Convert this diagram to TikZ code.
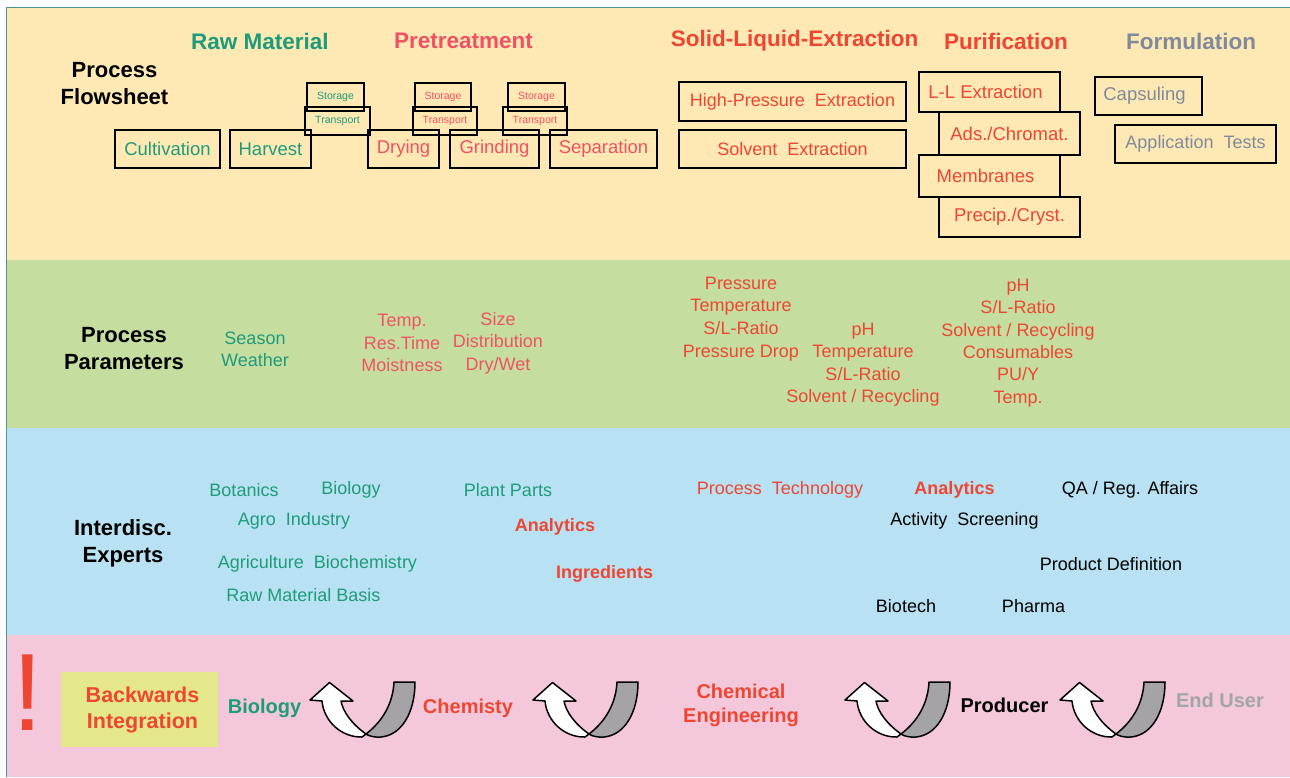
\documentclass[tikz,border=0pt]{standalone}
\usepackage{fontspec}
\setmainfont{Liberation Sans}
\definecolor{bgY}{RGB}{254,233,181}
\definecolor{bgG}{RGB}{197,222,160}
\definecolor{bgB}{RGB}{184,226,243}
\definecolor{bgP}{RGB}{244,200,218}
\definecolor{bord}{RGB}{74,150,150}
\definecolor{tgreen}{RGB}{30,155,122}
\definecolor{tpink}{RGB}{240,82,100}
\definecolor{tred}{RGB}{238,70,50}
\definecolor{tgray}{RGB}{128,138,155}
\definecolor{tlgray}{RGB}{162,164,172}
\definecolor{byel}{RGB}{228,232,138}
\definecolor{agray}{RGB}{165,163,168}
\tikzset{
  hdr/.style={font=\fontsize{22.5}{26}\selectfont\bfseries, inner sep=0},
  lbl/.style={font=\fontsize{22}{27}\selectfont\bfseries, align=center, inner sep=0, text=black},
  txt/.style={font=\fontsize{18}{22.4}\selectfont, align=center, inner sep=0},
  btxt/.style={font=\fontsize{18}{22}\selectfont\bfseries, align=center, inner sep=0, text=tred},
  box/.style={draw=black, line width=1.4pt, inner sep=0, font=\fontsize{18.5}{22}\selectfont},
  sbox/.style={draw=black, line width=1.2pt, inner sep=0, font=\fontsize{10.5}{12}\selectfont},
  bot/.style={font=\fontsize{20}{24}\selectfont\bfseries, align=center, inner sep=0},
  arr/.style={draw=black, line width=1.5pt, line join=round}
}
\begin{document}
\begin{tikzpicture}[x=1pt,y=-1pt]
\useasboundingbox (0,0) rectangle (1290,777);
\fill[white] (0,0) rectangle (1290,777);
% bands
\fill[bgY] (7,8) rectangle (1290,260);
\fill[bgG] (7,260) rectangle (1290,428);
\fill[bgB] (7,428) rectangle (1290,635);
\fill[bgP] (7,635) rectangle (1290,777);
\draw[bord, line width=1.3pt] (6.5,777) -- (6.5,7.5) -- (1290,7.5);

% headers
\node[hdr, text=tgreen] (hraw) at (260,41) {Raw Material};
\node[hdr, text=tpink] (hpre) at (463.5,41) {Pretreatment};
\node[hdr, text=tred] (hsle) at (794.5,41) {Solid-Liquid-Extraction};
\node[hdr, text=tred] (hpur) at (1006,41) {Purification};
\node[hdr, text=tgray] (hfor) at (1191,41) {Formulation};

% left labels
\node[lbl] (lflow) at (114.5,84) {Process\\Flowsheet};
\node[lbl] (lpar) at (124,348.5) {Process\\Parameters};
\node[lbl] (lexp) at (123,543.5) {Interdisc.\\Experts};

% flowsheet boxes
\node[box, text=tgreen, minimum width=105, minimum height=38] (cult) at (167.5,149) {Cultivation};
\node[box, text=tgreen, minimum width=81, minimum height=38] (harv) at (270.5,149) {Harvest};
\node[box, text=tpink, minimum width=71, minimum height=38] (dry) at (403.5,149) {Drying};
\node[box, text=tpink, minimum width=89, minimum height=38] (grind) at (494.5,149) {Grinding};
\node[box, text=tpink, minimum width=107, minimum height=38] (sep) at (603.5,149) {Separation};
\node[sbox, text=tgreen, minimum width=57, minimum height=28] (st1) at (335.5,97) {Storage};
\node[sbox, text=tgreen, minimum width=65, minimum height=28] (tr1) at (337.5,121) {Transport};
\node[sbox, text=tpink, minimum width=56, minimum height=28] (st2) at (443,97) {Storage};
\node[sbox, text=tpink, minimum width=64, minimum height=28] (tr2) at (445,121) {Transport};
\node[sbox, text=tpink, minimum width=57, minimum height=28] (st3) at (536.5,97) {Storage};
\node[sbox, text=tpink, minimum width=64, minimum height=28] (tr3) at (535,121) {Transport};

\node[box, text=tred, minimum width=227, minimum height=39, font=\fontsize{18}{22}\selectfont] (hpe) at (792.5,101.5) {High-Pressure\ \ Extraction};
\node[box, text=tred, minimum width=227, minimum height=38, font=\fontsize{18}{22}\selectfont] (se) at (792.5,149) {Solvent\ \ Extraction};
\node[box, text=tred, minimum width=141, minimum height=40] (ll) at (989.5,92) {L-L Extraction\hspace*{8pt}};
\node[box, text=tred, minimum width=141, minimum height=43] (ads) at (1009.5,133.5) {Ads./Chromat.};
\node[box, text=tred, minimum width=141, minimum height=42] (mem) at (989.5,176) {Membranes\hspace*{8pt}};
\node[box, text=tred, minimum width=141, minimum height=40] (prc) at (1009.5,217) {Precip./Cryst.};
\node[box, text=tgray, minimum width=107, minimum height=38] (cap) at (1148.5,96) {Capsuling\hspace*{8pt}};
\node[box, text=tgray, minimum width=161, minimum height=38, font=\fontsize{18}{22}\selectfont] (app) at (1195.5,144) {Application\ \ Tests};

% process parameters
\node[txt, text=tgreen] (p1) at (255,349) {Season\\Weather};
\node[txt, text=tpink] (p2) at (402,343) {Temp.\\Res.Time\\Moistness};
\node[txt, text=tpink] (p3) at (498,343) {Size\\Distribution\\Dry/Wet};
\node[txt, text=tred] (p4) at (741,305.5) {Pressure\\Temperature\\S/L-Ratio};
\node[txt, text=tred] (p5) at (741,353) {Pressure Drop};
\node[txt, text=tred] (p6) at (863,364.5) {pH\\Temperature\\S/L-Ratio\\Solvent / Recycling};
\node[txt, text=tred] (p7) at (1018,343) {pH\\S/L-Ratio\\Solvent / Recycling\\Consumables\\PU/Y\\Temp.};

% experts
\node[txt, text=tgreen] (e1) at (244,490) {Botanics};
\node[txt, text=tgreen] (e2) at (351,490) {Biology};
\node[txt, text=tgreen] (e3) at (508,490) {Plant Parts};
\node[txt, text=tgreen] (e4) at (294,521) {Agro\ \ Industry};
\node[btxt] (e5) at (555,527) {Analytics};
\node[txt, text=tgreen] (e6) at (317.5,564) {Agriculture\ \ Biochemistry};
\node[btxt] (e7) at (604.5,574) {Ingredients};
\node[txt, text=tgreen] (e8) at (303.5,595) {Raw Material Basis};
\node[txt, text=tred] (e9) at (780,490) {Process\ \ Technology};
\node[btxt] (e10) at (954.5,490) {Analytics};
\node[txt, text=black] (e11) at (1130,490) {QA / Reg. Affairs};
\node[txt, text=black] (e12) at (964.5,521) {Activity\ \ Screening};
\node[txt, text=black] (e13) at (1111,564) {Product Definition};
\node[txt, text=black] (e14) at (906,606) {Biotech};
\node[txt, text=black] (e15) at (1033.5,606) {Pharma};

% bottom row
\node[anchor=base, inner sep=0, text=tred, font=\fontsize{110}{110}\selectfont] (excl) at (27.5,730) {!};
\node[fill=byel, minimum width=157, minimum height=75, inner sep=0, bot, text=tred, font=\fontsize{21.5}{26}\selectfont\bfseries] (bw) at (139.5,709.5) {\hspace*{6pt}Backwards\\\hspace*{6pt}Integration};
\node[bot, text=tgreen] (bio) at (264.5,708) {Biology};
\node[bot, text=tred] (chem) at (468,708) {Chemisty};
\node[bot, text=tred, font=\fontsize{20}{24}\selectfont\bfseries] (ce) at (741,705) {Chemical\\Engineering};
\node[bot, text=black] (prod) at (1004.5,705) {Producer};
\node[bot, text=tlgray] (eu) at (1220,700) {End User};

% U-turn arrows
\foreach \dx in {0,223,535,750}{
\begin{scope}[xshift=\dx]
  \path[arr, fill=agray] (366,734) .. controls (383,721) and (393,703) .. (394,682)
     -- (415,682) .. controls (415,712) and (402,735) .. (381,737)
     .. controls (374,737.5) and (369,736) .. cycle;
  \path[arr, fill=white] (366,734) .. controls (352,724) and (343,712) .. (341,701)
     -- (353,701) -- (329.5,682.5) -- (310,700) -- (322,701)
     .. controls (324,722) and (342,737.5) .. (362,737) -- cycle;
\end{scope}
}
\end{tikzpicture}
\end{document}
